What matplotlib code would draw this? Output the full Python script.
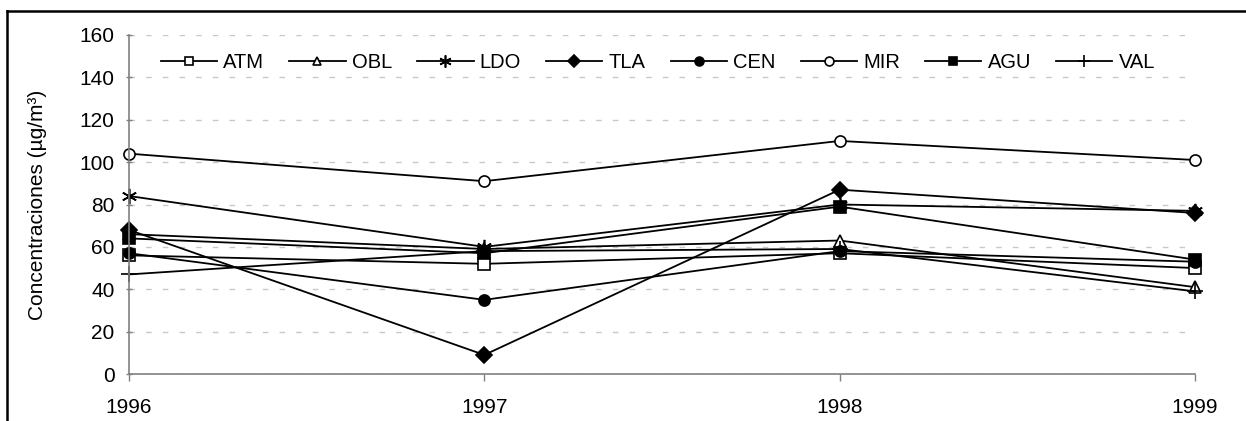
import matplotlib.pyplot as plt
from matplotlib.lines import Line2D

plt.rcParams['font.family'] = ['Liberation Sans', 'DejaVu Sans']

# Data
years = [1996, 1997, 1998, 1999]
atm = [56, 52, 57, 50]
obl = [66, 59, 63, 41]
ldo = [84, 60, 80, 77]
tla = [68, 9, 87, 76]
cen = [57, 35, 58, 53]
mir = [104, 91, 110, 101]
agu = [64, 57, 79, 54]
val = [47, 58, 59, 39]

series = [
    ('ATM', atm, dict(marker='s', markerfacecolor='white')),
    ('OBL', obl, dict(marker='^', markerfacecolor='white')),
    ('LDO', ldo, dict(marker=(6, 2, 0), markersize=11)),
    ('TLA', tla, dict(marker='D', markerfacecolor='black')),
    ('CEN', cen, dict(marker='o', markerfacecolor='black')),
    ('MIR', mir, dict(marker='o', markerfacecolor='white')),
    ('AGU', agu, dict(marker='s', markerfacecolor='black')),
    ('VAL', val, dict(marker='+', markersize=11)),
]

fig = plt.figure(figsize=(12.46, 4.21), dpi=100)
ax = fig.add_axes([129 / 1246, 1 - 374 / 421, (1195 - 129) / 1246, (374 - 35) / 421])

for name, values, style in series:
    kw = dict(color='black', linewidth=1.3, markersize=8,
              markeredgecolor='black', markeredgewidth=1.2)
    kw.update(style)
    ax.plot(years, values, label=name, clip_on=False, **kw)

ax.set_xlim(1996, 1999)
ax.set_ylim(0, 160)
ax.set_yticks(range(0, 161, 20))
ax.set_xticks(years)
ax.set_xticklabels([str(y) for y in years])
ax.tick_params(axis='both', labelsize=15, color='#808080', width=1)
ax.tick_params(axis='y', direction='inout', length=5, pad=8)
ax.tick_params(axis='x', direction='out', length=5, pad=12)
ax.grid(axis='y', linestyle=(0, (4, 8)), color='#c8c8c8', linewidth=1)
ax.set_axisbelow(True)
for side in ['top', 'right']:
    ax.spines[side].set_visible(False)
for side in ['left', 'bottom']:
    ax.spines[side].set_color('#808080')
    ax.spines[side].set_linewidth(1.2)
ax.set_ylabel('Concentraciones (µg/m³)', fontsize=15)
ax.yaxis.set_label_coords(-0.077, 0.5)

ax.legend(loc='center', bbox_to_anchor=(0.496, 0.92), ncol=8, frameon=False,
          fontsize=14.5, handlelength=2.8, columnspacing=1.25, handletextpad=0.3,
          markerscale=0.8)

# outer frame of the original image (left and top edges only)
fig.add_artist(Line2D([7 / 1246, 7 / 1246], [0, 1 - 11 / 421], transform=fig.transFigure,
                      color='black', linewidth=1.8))
fig.add_artist(Line2D([7 / 1246, 1], [1 - 11 / 421, 1 - 11 / 421], transform=fig.transFigure,
                      color='black', linewidth=1.8))

fig.savefig('out.png', dpi=100)
